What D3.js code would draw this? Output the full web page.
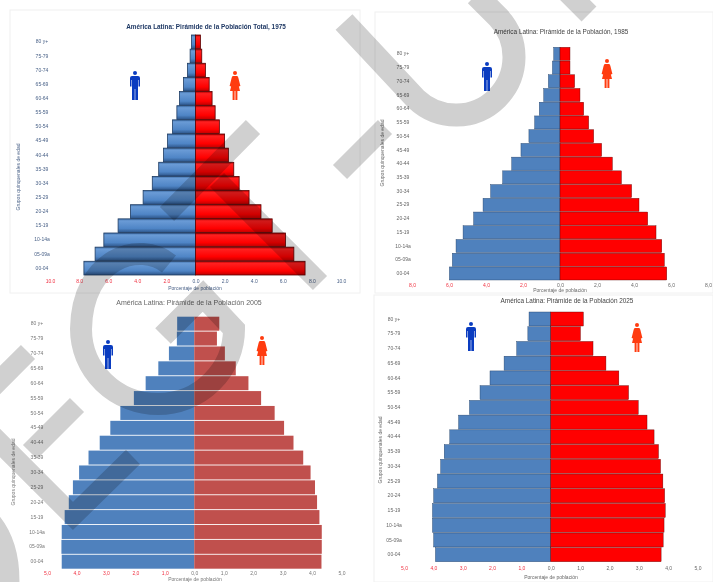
<!DOCTYPE html>
<html>
<head>
<meta charset="utf-8">
<script src="https://cdn.jsdelivr.net/npm/d3@7"></script>
<style>
html, body { margin: 0; padding: 0; background: #fff; overflow: hidden; }
text { font-family: "Liberation Sans", Arial, sans-serif; }
</style>
</head>
<body>
<svg id="canvas" width="713" height="582"></svg>
<script>
// age groups, top of the pyramid first
let ages = ['80 y+','75-79','70-74','65-69','60-64','55-59','50-54','45-49','40-44','35-39','30-34','25-29','20-24','15-19','10-14a','05-09a','00-04']

let male1975 = [0.27,0.37,0.55,0.82,1.1,1.28,1.58,1.92,2.2,2.53,2.97,3.6,4.47,5.32,6.3,6.9,7.67]
let female1975 = [0.34,0.43,0.68,0.94,1.14,1.35,1.64,2.0,2.26,2.63,3.0,3.68,4.5,5.27,6.19,6.76,7.53]

let male1985 = [0.34,0.41,0.63,0.88,1.12,1.37,1.68,2.11,2.61,3.1,3.75,4.16,4.67,5.24,5.62,5.82,5.98]
let female1985 = [0.54,0.54,0.79,1.08,1.28,1.55,1.82,2.25,2.83,3.32,3.87,4.27,4.74,5.19,5.5,5.64,5.77]

let male2005 = [0.58,0.59,0.86,1.22,1.65,2.05,2.51,2.85,3.21,3.59,3.91,4.12,4.26,4.4,4.5,4.51,4.5]
let female2005 = [0.85,0.77,1.04,1.41,1.84,2.27,2.73,3.05,3.37,3.7,3.95,4.1,4.17,4.25,4.33,4.33,4.32]

let male2025 = [0.74,0.78,1.16,1.59,2.07,2.41,2.77,3.14,3.44,3.63,3.75,3.86,3.99,4.03,4.03,3.99,3.93]
let female2025 = [1.11,1.01,1.44,1.88,2.32,2.65,2.98,3.28,3.52,3.67,3.74,3.82,3.88,3.9,3.86,3.83,3.76]

let ticks1975 = [-10,-8,-6,-4,-2,0,2,4,6,8,10]
let ticks1985 = [-8,-6,-4,-2,0,2,4,6,8]
let ticks2005 = [-5,-4,-3,-2,-1,0,1,2,3,4,5]
let ticks2025 = [-5,-4,-3,-2,-1,0,1,2,3,4,5]

let canvas = d3.select('#canvas')

let defs = canvas.append('defs')
defs.append('filter').attr('id', 'soft').append('feGaussianBlur').attr('stdDeviation', 0.35)

// the glossy bars of the 1975 chart
let addGloss = (id, stops) => {
    let grad = defs.append('linearGradient').attr('id', id)
        .attr('x1', 0).attr('y1', 0).attr('x2', 0).attr('y2', 1)
    stops.forEach((s) => {
        grad.append('stop').attr('offset', s[0]).attr('stop-color', s[1])
    })
}
addGloss('glossM', [[0,'#3f6fa8'],[0.15,'#6a9bd6'],[0.7,'#4f85c6'],[1,'#2c5488']])
addGloss('glossF', [[0,'#b00000'],[0.15,'#ff2020'],[0.7,'#ff0000'],[1,'#c00000']])

// frames around the pasted charts
let frames = [[10,10,360,293],[375,12,713,293],[374,295,713,582]]
canvas.selectAll('rect.frame').data(frames).enter().append('rect')
    .attr('class', 'frame')
    .attr('x', (f) => f[0]).attr('y', (f) => f[1])
    .attr('width', (f) => f[2] - f[0]).attr('height', (f) => f[3] - f[1])
    .attr('fill', 'none').attr('stroke', '#f0f0f0')

let panels = [
    {title:'América Latina: Pirámide de la Población Total, 1975', male:male1975, female:female1975, ticks:ticks1975, dec:'.',
     x:[50,341], y:[35,275], tickY:281, titleX:206, titleY:29, titleColor:'#1f3864', titleBold:true, titleSize:6.4,
     xLabel:[195,290], yLabel:[20,177], ageX:42, mIcon:[135,71], fIcon:[235,71], style:'gloss', labelColor:'#4a6288', gap:0.03},
    {title:'América Latina: Pirámide de la Población, 1985', male:male1985, female:female1985, ticks:ticks1985, dec:',',
     x:[412,708], y:[47.3,280], tickY:285.5, titleX:561, titleY:34, titleColor:'#444', titleBold:false, titleSize:6.4,
     xLabel:[560,292], yLabel:[384,153], ageX:403, mIcon:[487,62], fIcon:[607,59], style:'edge', labelColor:'#666', gap:0.05},
    {title:'América Latina: Pirámide de la Población 2005', male:male2005, female:female2005, ticks:ticks2005, dec:',',
     x:[47,341.5], y:[316.7,568.7], tickY:573.5, titleX:189, titleY:305, titleColor:'#666', titleBold:false, titleSize:7,
     xLabel:[195,581.2], yLabel:[15,472], ageX:37, mIcon:[108,340], fIcon:[262,336], style:'flat', labelColor:'#777', gap:0.06},
    {title:'América Latina: Pirámide de la Población 2025', male:male2025, female:female2025, ticks:ticks2025, dec:',',
     x:[404,697.5], y:[312,561.7], tickY:568, titleX:567, titleY:303, titleColor:'#444', titleBold:false, titleSize:6.4,
     xLabel:[551,579], yLabel:[382,450], ageX:394, mIcon:[471,322], fIcon:[637,323], style:'edge', labelColor:'#666', gap:0.05}
]

let drawMan = (g, color) => {
    g.attr('fill', color)
    g.append('circle').attr('cx', 0).attr('cy', 2).attr('r', 2)
    g.append('path').attr('d', 'M-3,5 H3 Q5,5 5,7 V15.5 H3.5 V9 H3 V29 H0.3 V18 H-0.3 V29 H-3 V9 H-3.5 V15.5 H-5 V7 Q-5,5 -3,5 Z')
}
let drawWoman = (g, color) => {
    g.attr('fill', color)
    g.append('circle').attr('cx', 0).attr('cy', 2).attr('r', 2)
    g.append('path').attr('d', 'M-2,5 H2 Q3,5 3.4,7 L5.4,15 L3.8,15.6 L3,12 L5,20 H2.4 V29 H0.4 V20 H-0.4 V29 H-2.4 V20 H-5 L-3,12 L-3.8,15.6 L-5.4,15 L-3.4,7 Q-3,5 -2,5 Z')
}

let drawPanel = (p) => {
    let max = d3.max(p.ticks)
    let xScale = d3.scaleLinear().domain([-max, max]).range(p.x)
    let yScale = d3.scaleBand().domain(ages).range(p.y).paddingInner(p.gap).paddingOuter(0)
    let g = canvas.append('g')

    let sides = [
        {values:p.male, sign:-1, flat:'#4f81bd', gloss:'url(#glossM)', line:'#1f3c63'},
        {values:p.female, sign:1, flat:p.style === 'flat' ? '#c0504d' : '#ff0000', gloss:'url(#glossF)', line:'#5a0000'}
    ]
    sides.forEach((side) => {
        g.selectAll(null).data(side.values).enter().append('rect')
            .attr('x', (d) => side.sign < 0 ? xScale(-d) : xScale(0))
            .attr('y', (d, i) => yScale(ages[i]))
            .attr('width', (d) => xScale(d) - xScale(0))
            .attr('height', yScale.bandwidth())
            .attr('fill', p.style === 'gloss' ? side.gloss : side.flat)
            .attr('stroke', p.style === 'flat' ? 'none' : side.line)
            .attr('stroke-width', p.style === 'gloss' ? 0.8 : 0.4)
    })

    // bottom axis, both sides show positive percentages
    let xAxis = d3.axisBottom(xScale).tickValues(p.ticks).tickSize(0).tickPadding(0)
        .tickFormat((d) => d3.format('.1f')(Math.abs(d)).replace('.', p.dec))
    let xg = g.append('g').attr('transform', 'translate(0,' + (p.tickY - 1.8) + ')').call(xAxis)
    xg.select('.domain').remove()
    xg.selectAll('text').attr('font-size', 5).attr('filter', 'url(#soft)')
        .attr('fill', (d) => d < 0 ? '#f03040' : p.labelColor)

    let yAxis = d3.axisLeft(yScale).tickSize(0).tickPadding(0)
    let yg = g.append('g').attr('transform', 'translate(' + p.ageX + ',0)').call(yAxis)
    yg.select('.domain').remove()
    yg.selectAll('text').attr('font-size', 5).attr('text-anchor', 'middle')
        .attr('fill', p.labelColor).attr('filter', 'url(#soft)')

    g.append('text').text(p.title)
        .attr('x', p.titleX).attr('y', p.titleY).attr('text-anchor', 'middle')
        .attr('font-size', p.titleSize).attr('font-weight', p.titleBold ? 'bold' : 'normal')
        .attr('fill', p.titleColor).attr('filter', 'url(#soft)')

    g.append('text').text('Porcentaje de población')
        .attr('x', p.xLabel[0]).attr('y', p.xLabel[1]).attr('text-anchor', 'middle')
        .attr('font-size', 5).attr('fill', p.labelColor).attr('filter', 'url(#soft)')

    g.append('text').text('Grupos quinquenales de edad')
        .attr('transform', 'translate(' + p.yLabel[0] + ',' + p.yLabel[1] + ') rotate(-90)')
        .attr('text-anchor', 'middle')
        .attr('font-size', 5).attr('fill', p.labelColor).attr('filter', 'url(#soft)')

    drawMan(g.append('g').attr('transform', 'translate(' + p.mIcon[0] + ',' + p.mIcon[1] + ')'), '#0a3cc0')
    drawWoman(g.append('g').attr('transform', 'translate(' + p.fIcon[0] + ',' + p.fIcon[1] + ')'), '#ff3c10')
}

panels.forEach(drawPanel)

// grey watermark strokes lying over everything
let stamp = canvas.append('g')
    .style('mix-blend-mode', 'multiply')
    .attr('fill', 'none').attr('stroke', '#d0d0d0').attr('stroke-linejoin', 'miter')

let strokes = [
    ['M344,22 L416,99 A58,58 0 0 0 498,17 L476,-5', 23],
    ['M561,-14 L589,14', 21],
    ['M340,172 L385,127', 20],
    ['M253,127 L167,214', 20],
    ['M217,180 L320,283', 20],
    ['M169,264 C140,240 82,258 81,329 A77,75 0 0 0 158,404 A76,75 0 0 0 234,329 L203,296 L163,336', 22],
    ['M28,352 L-10,390', 20],
    ['M77,405 L30,452', 20],
    ['M-10,433 L73,516 L133,457', 20],
    ['M-10,522 C5,540 10,565 8,592', 22]
]
stamp.selectAll('path').data(strokes).enter().append('path')
    .attr('d', (s) => s[0])
    .attr('stroke-width', (s) => s[1])
</script>
</body>
</html>
